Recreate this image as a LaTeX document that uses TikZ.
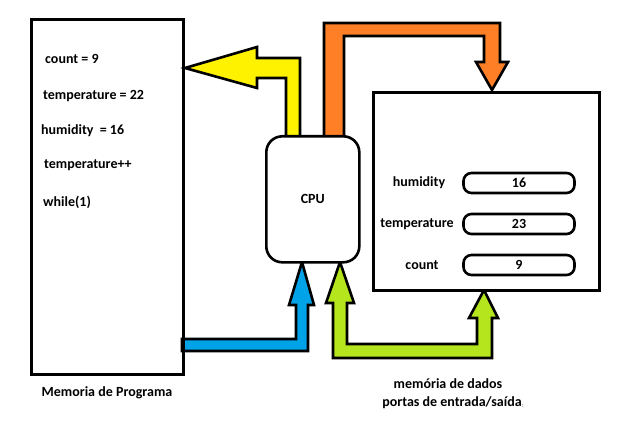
\documentclass[tikz,border=0pt]{standalone}
\usepackage{fontspec}
\setmainfont{Carlito}
\definecolor{pyellow}{HTML}{FFF200}
\definecolor{porange}{HTML}{FF7F27}
\definecolor{pblue}{HTML}{00A2E8}
\definecolor{pgreen}{HTML}{B5E61D}
\begin{document}
\begin{tikzpicture}[x=1pt,y=-1pt,
  every node/.style={font=\fontsize{14}{16}\selectfont\bfseries, inner sep=0pt},
  box/.style={draw, line width=2.6pt, fill=white},
  blockarrow/.style={draw, line width=2.6pt, line join=miter},
  cell/.style={draw, line width=2.6pt, rounded corners=8pt, minimum width=111pt, minimum height=20pt},
  code/.style={anchor=west},
  lbl/.style={anchor=center}]
\useasboundingbox (0,0) rectangle (624,441);
% block arrows
\draw[blockarrow, fill=pyellow] (300,140) -- (300,58) -- (257,58) -- (257,47) -- (185,68) -- (257,88) -- (257,78) -- (286,78) -- (286,140) -- cycle;
\draw[blockarrow, fill=porange] (324,140) -- (324,23) -- (500,23) -- (500,62) -- (508,62) -- (492,90) -- (476,62) -- (484,62) -- (484,36) -- (344,36) -- (344,140) -- cycle;
\draw[blockarrow, fill=pblue] (182,339) -- (296,339) -- (296,305) -- (289,305) -- (302,262) -- (314,305) -- (308,305) -- (308,351) -- (182,351) -- cycle;
\draw[blockarrow, fill=pgreen] (333,303) -- (326,303) -- (340,262) -- (354,303) -- (347,303) -- (347,344) -- (477,344) -- (477,318) -- (469,318) -- (484,290) -- (498,318) -- (492,318) -- (492,358) -- (333,358) -- cycle;
% boxes
\node[draw, line width=2.6pt, minimum width=152pt, minimum height=355pt, anchor=north west] (prog) at (30,18) {};
\node[box, rounded corners=16pt, minimum width=93pt, minimum height=126pt, anchor=north west] (cpu) at (265,135) {};
\node[box, minimum width=226pt, minimum height=198pt, anchor=north west] (data) at (372,91) {};
\node at (cpu.center) {CPU};
% program lines
\node[code] (l1) at (45,59) {count = 9};
\node[code] (l2) at (43,96) {temperature = 22};
\node[code] (l3) at (41,131) {humidity\ \ = 16};
\node[code] (l4) at (44,165) {temperature++};
\node[code] (l5) at (43,202) {while(1)};
% data memory
\node[cell] (c1) at (519,183) {16};
\node[cell] (c2) at (519,224) {23};
\node[cell] (c3) at (519,265) {9};
\node[lbl] (n1) at (419,183) {humidity};
\node[lbl] (n2) at (417,224) {temperature};
\node[lbl] (n3) at (422,265) {count};
% captions
\node[lbl] (cap1) at (107,393) {Memoria de Programa};
\node[lbl] (cap2) at (448,384) {memória de dados};
\node[lbl] (cap3) at (452,403) {portas de entrada/saída};
\node[anchor=west, font=\fontsize{6}{6}\selectfont] (cap4) at (522,406) {:};
\end{tikzpicture}
\end{document}
